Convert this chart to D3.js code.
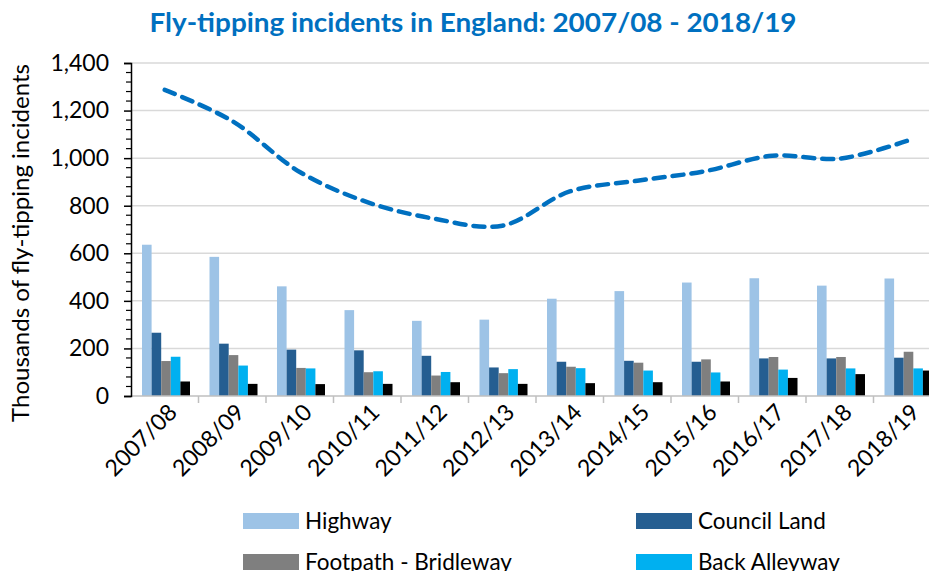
<!DOCTYPE html>
<html><head><meta charset="utf-8">
<script src="https://cdn.jsdelivr.net/npm/d3@7"></script>
<style>
html,body{margin:0;padding:0;background:#fff;}
svg{display:block;font-family:Lato,"Open Sans",sans-serif;}
</style></head>
<body>
<svg id="chart" width="929" height="571"></svg>
<script>
const years = ["2007/08","2008/09","2009/10","2010/11","2011/12","2012/13","2013/14","2014/15","2015/16","2016/17","2017/18","2018/19"];
const highway = [636,585,461,361,316,321,409,441,477,495,464,494];
const councilLand = [266,220,195,192,169,120,144,148,144,158,158,161];
const footpathBridleway = [147,172,118,100,86,96,123,140,154,164,164,186];
const backAlleyway = [165,128,116,104,101,113,117,107,99,111,116,116];
const privateResidential = [61,51,50,51,58,51,54,58,61,76,92,107];
const totalIncidents = [1287,1156,942,815,745,716,860,905,945,1010,998,1073];
const yTicks = [0,200,400,600,800,1000,1200,1400];

const seriesNames = ["Highway","Council Land","Footpath - Bridleway","Back Alleyway","Private - Residential"];
const seriesColors = ["#9DC3E6","#255E91","#7F7F7F","#00B0F0","#000000"];
const seriesValues = [highway,councilLand,footpathBridleway,backAlleyway,privateResidential];

const svg = d3.select("#chart");
const plotLeft = 131, plotTop = 63, plotBottom = 396, band = 67.5;

const y = d3.scaleLinear().domain([0,1400]).range([plotBottom, plotTop]);
const x0 = d3.scaleBand().domain(years).range([plotLeft, plotLeft + band*years.length]).padding(0);
const x1 = d3.scaleBand().domain(seriesNames).range([11, 59]).padding(0);

// gridlines
svg.append("g").selectAll("line").data(yTicks.filter(d=>d>0)).join("line")
  .attr("x1", plotLeft).attr("x2", 929).attr("y1", d=>y(d)).attr("y2", d=>y(d))
  .attr("stroke", "#d9d9d9").attr("stroke-width", 1.5);

// bars
const groups = svg.append("g").selectAll("g").data(years).join("g")
  .attr("transform", d=>`translate(${x0(d)},0)`);
groups.selectAll("rect").data((d,i)=>seriesNames.map((s,k)=>({s, v: seriesValues[k][i], c: seriesColors[k]})))
  .join("rect")
  .attr("x", d=>x1(d.s)).attr("width", x1.bandwidth())
  .attr("y", d=>y(d.v)).attr("height", d=>y(0)-y(d.v))
  .attr("fill", d=>d.c);

// x axis line + ticks
svg.append("line").attr("x1", plotLeft).attr("x2", 929).attr("y1", plotBottom).attr("y2", plotBottom)
  .attr("stroke", "#bfbfbf").attr("stroke-width", 1.5);
svg.append("g").selectAll("line").data(years).join("line")
  .attr("x1", (d,i)=>plotLeft + band*(i+1)).attr("x2", (d,i)=>plotLeft + band*(i+1))
  .attr("y1", plotBottom).attr("y2", plotBottom+7)
  .attr("stroke", "#bfbfbf").attr("stroke-width", 1.5);

// x labels
svg.append("g").selectAll("text").data(years).join("text")
  .attr("transform", d=>`translate(${x0(d)+band/2+8},${plotBottom+12}) rotate(-45)`)
  .attr("text-anchor","end").attr("dy","0.35em")
  .attr("font-size", 23).attr("fill","#000").text(d=>d);

// y axis
const yAxis = d3.axisLeft(y).tickValues(yTicks).tickSize(7).tickFormat(d3.format(","));
const ga = svg.append("g").attr("transform", `translate(${plotLeft},0)`).call(yAxis);
ga.select(".domain").attr("stroke","#000").attr("stroke-width",1.5);
ga.selectAll(".tick line").attr("stroke","#000").attr("stroke-width",1.5);
ga.selectAll(".tick text").attr("font-size",23).attr("font-family","Lato").attr("fill","#000").attr("x",-22);
const minor = d3.range(0,1401,40).filter(d=>d%200!==0);
svg.append("g").selectAll("line").data(minor).join("line")
  .attr("x1", plotLeft-5).attr("x2", plotLeft).attr("y1", d=>y(d)).attr("y2", d=>y(d))
  .attr("stroke","#000").attr("stroke-width",1.2);

// y title
svg.append("text").attr("transform","translate(29,243) rotate(-90)")
  .attr("text-anchor","middle").attr("font-size",23).attr("fill","#000")
  .attr("textLength",358).attr("lengthAdjust","spacingAndGlyphs")
  .text("Thousands of fly-tipping incidents");

// line
const line = d3.line().x((d,i)=>x0(years[i])+band/2).y(d=>y(d)).curve(d3.curveCatmullRom.alpha(0.5));
svg.append("path").datum(totalIncidents).attr("d", line)
  .attr("fill","none").attr("stroke","#0070C0").attr("stroke-width",4.5)
  .attr("stroke-dasharray","11,8").attr("stroke-linecap","round");

// title
svg.append("text").attr("x", 473).attr("y", 32).attr("text-anchor","middle")
  .attr("font-size",27).attr("font-weight","bold").attr("fill","#0070C0")
  .attr("textLength",647).attr("lengthAdjust","spacingAndGlyphs")
  .text("Fly-tipping incidents in England: 2007/08 - 2018/19");

// legend (only visible rows)
const legX = [243, 636], legY = [513, 554];
const leg = svg.append("g").selectAll("g").data(seriesNames.slice(0,4)).join("g")
  .attr("transform",(d,i)=>`translate(${legX[i%2]},${legY[Math.floor(i/2)]})`);
leg.append("rect").attr("width",56).attr("height",16).attr("fill",(d,i)=>seriesColors[i]);
leg.append("text").attr("x",62).attr("y",8).attr("dy","0.35em").attr("font-size",22.5).attr("fill","#000").text(d=>d);
</script>
</body></html>
